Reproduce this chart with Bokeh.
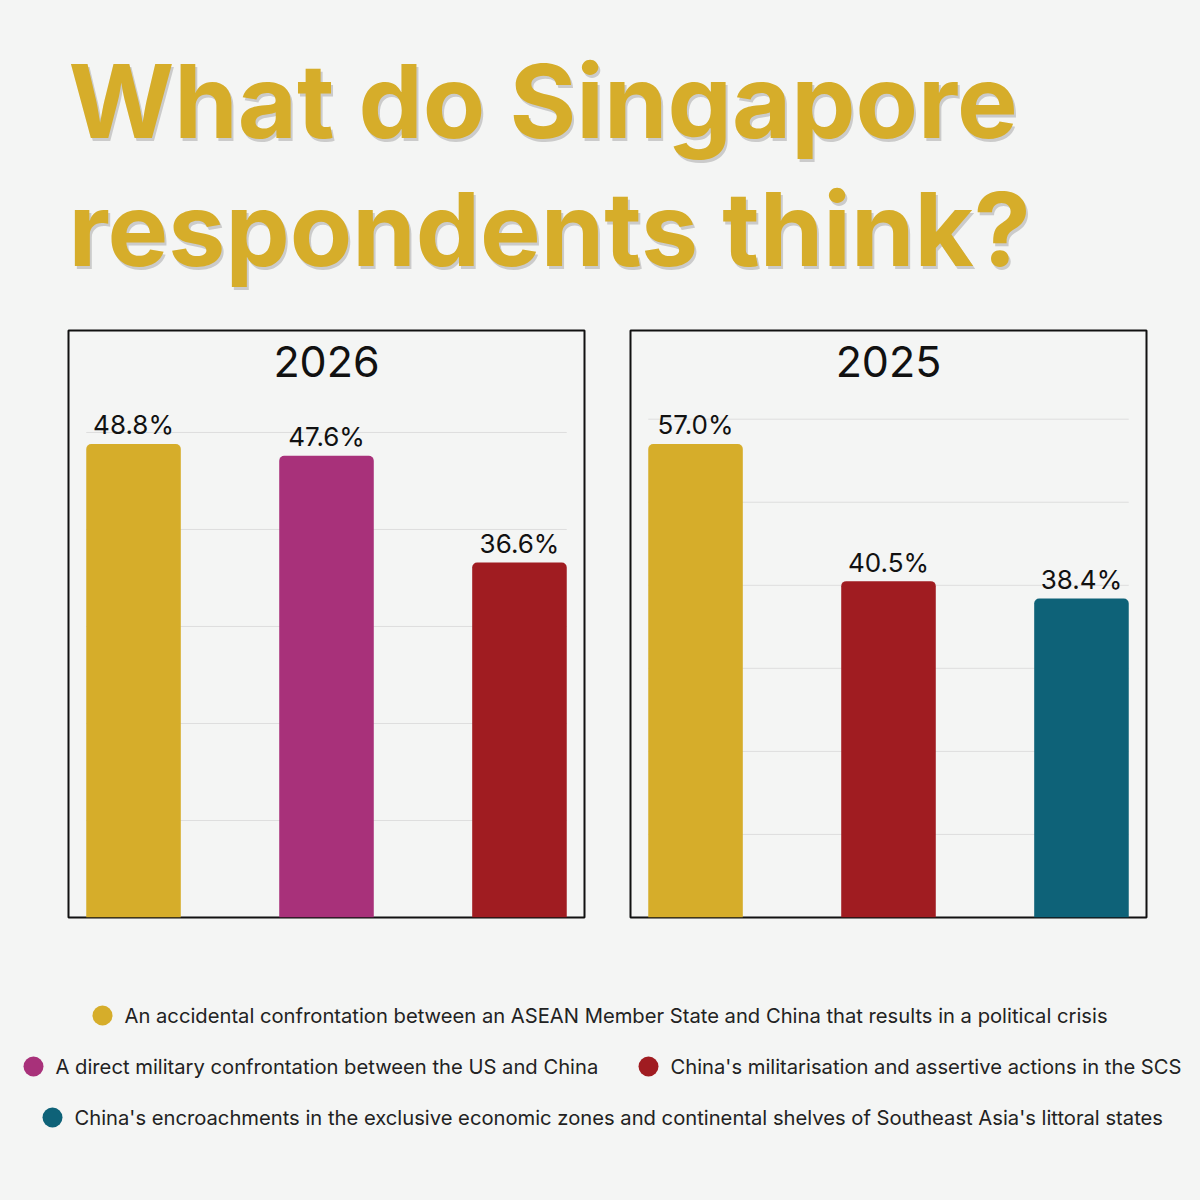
from bokeh.plotting import figure
from bokeh.layouts import column, row
from bokeh.models import Spacer, ColumnDataSource, Range1d, Label
from bokeh.embed import file_html
from bokeh.resources import INLINE
from bokeh.core.properties import value

# ---------------- data ----------------
title_lines = ["What do Singapore", "respondents think?"]

year_left = "2026"
cats_left = ["accidental", "direct", "militarisation"]
vals_left = [48.8, 47.6, 36.6]
grid_left = [10, 20, 30, 40, 50]

year_right = "2025"
cats_right = ["accidental", "militarisation", "encroachments"]
vals_right = [57.0, 40.5, 38.4]
grid_right = [10, 20, 30, 40, 50, 60]

legend_keys = ["accidental", "direct", "militarisation", "encroachments"]
legend_labels = [
    "An accidental confrontation between an ASEAN Member State and China that results in a political crisis",
    "A direct military confrontation between the US and China",
    "China's militarisation and assertive actions in the SCS",
    "China's encroachments in the exclusive economic zones and continental shelves of Southeast Asia's littoral states",
]

COLORS = {
    "accidental": "#d6ad2a",
    "direct": "#a8317a",
    "militarisation": "#a01c21",
    "encroachments": "#0e6278",
}

# ---------------- style / layout ----------------
BG = "#f4f5f4"
GOLD = "#d6ad2a"
W = 1200
TITLE_H = 328
CHART_W = 520
CHART_H = 591
LEGEND_H = 1200 - TITLE_H - CHART_H
BAR_W = 0.49
FONT = "Inter"
BASE_SHIFT = 0.39  # empirical alphabetic-baseline correction (fraction of font size)


def base_fig(width, height, xr, yr, border=0):
    p = figure(width=width, height=height, x_range=xr, y_range=yr,
               output_backend="svg", toolbar_location=None,
               x_axis_location=None, y_axis_location=None,
               min_border=border)
    p.grid.visible = False
    p.background_fill_color = BG
    p.border_fill_color = BG
    p.outline_line_color = None
    return p


# title
TITLE_SIZE = 102
tp = base_fig(W, TITLE_H, Range1d(0, W), Range1d(TITLE_H, 0))
tsrc = ColumnDataSource(dict(x=[68, 68],
                             y=[140 - BASE_SHIFT * TITLE_SIZE, 268 - BASE_SHIFT * TITLE_SIZE],
                             text=title_lines))
tp.text(x="x", y="y", text="text", source=tsrc, x_offset=2, y_offset=3,
        text_font=value(FONT), text_font_style="bold", text_font_size=f"{TITLE_SIZE}px",
        text_color="#9a9a9a", text_alpha=0.45, text_baseline="alphabetic")
tp.text(x="x", y="y", text="text", source=tsrc,
        text_font=value(FONT), text_font_style="bold", text_font_size=f"{TITLE_SIZE}px",
        text_color=GOLD, text_baseline="alphabetic")


def make_chart(year, cats, vals, grid):
    n = len(cats)
    ymax = max(vals) * 1.24
    p = base_fig(CHART_W, CHART_H, Range1d(-0.337, n - 1 + 0.337), Range1d(0, ymax), border=2)
    p.outline_line_color = "#111111"
    p.outline_line_width = 2
    xs = list(range(n))
    p.segment(x0=-BAR_W / 2, x1=n - 1 + BAR_W / 2, y0=grid, y1=grid,
              line_color="#dedede", line_width=1)
    src = ColumnDataSource(dict(
        x=xs, top=vals, color=[COLORS[c] for c in cats],
        label=[f"{v:.1f}%" for v in vals]))
    p.vbar(x="x", top="top", bottom=0, width=BAR_W, source=src,
           fill_color="color", line_color=None, border_radius=(5, 5, 0, 0))
    p.text(x="x", y="top", text="label", source=src, y_offset=-9 - BASE_SHIFT * 26,
           text_align="center", text_baseline="alphabetic",
           text_font=value(FONT), text_font_size="26px", text_color="#111111")
    p.add_layout(Label(x=(n - 1) / 2, y=CHART_H - 4 - 48 + 0.4 * 43, x_units="data", y_units="screen",
                       text=year, text_align="center", text_baseline="alphabetic",
                       text_font=FONT, text_font_size="43px", text_color="#111111"))
    return p


left = make_chart(year_left, cats_left, vals_left, grid_left)
right = make_chart(year_right, cats_right, vals_right, grid_right)

# legend
lp = base_fig(W, LEGEND_H, Range1d(0, W), Range1d(LEGEND_H, 0))
leg_cx = [102, 33, 648, 52]
leg_tx = [124, 55, 670, 74]
leg_y = [96, 147, 147, 198]
lsrc = ColumnDataSource(dict(cx=leg_cx, tx=leg_tx, y=leg_y, text=legend_labels,
                             color=[COLORS[k] for k in legend_keys]))
lp.scatter(x="cx", y="y", source=lsrc, size=20, fill_color="color", line_color=None)
lp.text(x="tx", y="y", text="text", source=lsrc, text_baseline="middle",
        text_font=value(FONT), text_font_size="20.2px", text_color="#222222")

layout = column(
    tp,
    row(Spacer(width=66, height=CHART_H), left, Spacer(width=42, height=CHART_H), right),
    lp,
)

html = file_html(layout, INLINE, title="What do Singapore respondents think?")
html = html.replace("<head>", "<head><style>html,body{background:%s;}</style>" % BG, 1)
open("out.html", "w").write(html)
